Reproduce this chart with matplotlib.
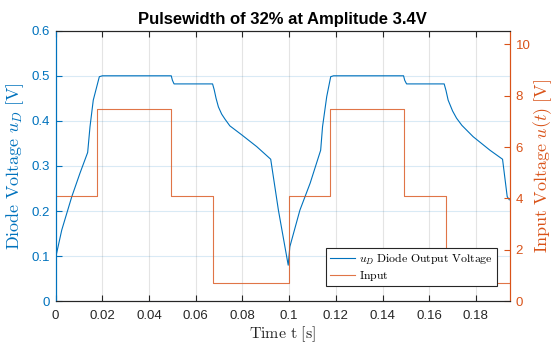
import matplotlib
matplotlib.use("Agg")
import matplotlib.pyplot as plt

# diode output voltage u_D [V], breakpoints over two periods
diode_t = [0.0, 0.0026, 0.0069, 0.0104, 0.0137, 0.0147, 0.0161, 0.0176, 0.0187, 0.0200,
           0.0495, 0.0500, 0.0507, 0.0672, 0.0679, 0.0687, 0.0697, 0.0711, 0.0725, 0.0746,
           0.0797, 0.0861, 0.0921, 0.0954, 0.0996,
           0.1003, 0.1046, 0.1090, 0.1135, 0.1143, 0.1161, 0.1178, 0.1190,
           0.1490, 0.1495, 0.1503, 0.1664, 0.1672, 0.1681, 0.1700, 0.1717, 0.1740, 0.1788,
           0.1860, 0.1914, 0.1934, 0.1943]
diode_v = [0.097, 0.158, 0.232, 0.284, 0.330, 0.387, 0.446, 0.476, 0.498, 0.500,
           0.500, 0.490, 0.482, 0.482, 0.469, 0.450, 0.431, 0.415, 0.404, 0.389,
           0.369, 0.343, 0.315, 0.202, 0.080,
           0.121, 0.202, 0.262, 0.335, 0.387, 0.454, 0.498, 0.500,
           0.500, 0.490, 0.482, 0.482, 0.467, 0.446, 0.422, 0.406, 0.390, 0.365,
           0.335, 0.315, 0.232, 0.225]

# input voltage u(t) [V], piecewise constant: level starts at each edge time
input_edges = [0.0, 0.0176, 0.0496, 0.0675, 0.1, 0.1176, 0.1494, 0.1671, 0.1946]
input_levels = [4.1, 7.5, 4.1, 0.7, 4.1, 7.5, 4.1, 0.7, 0.7]

x_ticks = [0, 0.02, 0.04, 0.06, 0.08, 0.1, 0.12, 0.14, 0.16, 0.18]
x_tick_labels = ["0", "0.02", "0.04", "0.06", "0.08", "0.1", "0.12", "0.14", "0.16", "0.18"]

BLUE = "#0072BD"
ORANGE = "#D95319"
DARK = "#262626"

plt.rcParams["mathtext.fontset"] = "cm"
plt.rcParams["font.family"] = ["Liberation Sans", "DejaVu Sans"]

fig = plt.figure(figsize=(5.54, 3.54), dpi=100)
ax = fig.add_axes([0.1005, 0.1489, 0.8201, 0.7644])
ax2 = ax.twinx()

l1, = ax.plot(diode_t, diode_v, color=BLUE, lw=0.8)
l2, = ax2.step(input_edges, input_levels, where="post", color=ORANGE, lw=0.8, alpha=0.8)

ax.set_xlim(0, 0.1946)
ax.set_ylim(0, 0.6)
ax2.set_ylim(0, 10.53)

ax.set_xticks(x_ticks)
ax.set_xticklabels(x_tick_labels)
ax.set_yticks([0, 0.1, 0.2, 0.3, 0.4, 0.5, 0.6])
ax.set_yticklabels(["0", "0.1", "0.2", "0.3", "0.4", "0.5", "0.6"])
ax2.set_yticks([0, 2, 4, 6, 8, 10])

# grid: vertical grey, horizontal tinted by the left axis colour
ax.grid(axis="x", color=DARK, alpha=0.12, lw=0.8)
ax.grid(axis="y", color=BLUE, alpha=0.15, lw=0.8)
ax.set_axisbelow(True)

for a in (ax, ax2):
    a.spines["top"].set_color(DARK)
    a.spines["bottom"].set_color(DARK)
    a.spines["left"].set_color(BLUE)
    a.spines["right"].set_color(ORANGE)
    for s in a.spines.values():
        s.set_linewidth(0.8)

ax.tick_params(axis="x", direction="in", top=True, colors=DARK, labelsize=9.5, length=4, width=0.8, pad=6)
ax.tick_params(axis="y", direction="in", colors=BLUE, labelsize=9.5, length=4, width=0.8, pad=4)
ax2.tick_params(axis="y", direction="in", colors=ORANGE, labelsize=9.5, length=4, width=0.8, pad=4)

ax.set_xlabel(r"$\mathrm{Time\ t\ [s]}$", fontsize=11.5, color=DARK, labelpad=2)
ax.set_ylabel(r"$\mathrm{Diode\ Voltage}\ u_D\ [\mathrm{V}]$", fontsize=13, color=BLUE)
ax2.set_ylabel(r"$\mathrm{Input\ Voltage}\ u(t)\ [\mathrm{V}]$", fontsize=13, color=ORANGE)
ax.yaxis.set_label_coords(-30 / 454.3, 0.5)
ax2.yaxis.set_label_coords(1 + 21 / 454.3, 0.5)
ax.set_title("Pulsewidth of 32% at Amplitude 3.4V", fontsize=12, fontweight="bold", pad=5)

leg = ax2.legend([l1, l2], [r"$u_D$ $\mathrm{Diode\ Output\ Voltage}$", r"$\mathrm{Input}$"],
                 loc="lower right", bbox_to_anchor=(0.971, 0.055), borderaxespad=0,
                 fontsize=8.5, fancybox=False, framealpha=1, edgecolor=DARK, handlelength=2.1,
                 borderpad=0.3, labelspacing=0.2, handletextpad=0.4)
leg.get_frame().set_linewidth(0.8)

fig.savefig("out.png", dpi=100)
